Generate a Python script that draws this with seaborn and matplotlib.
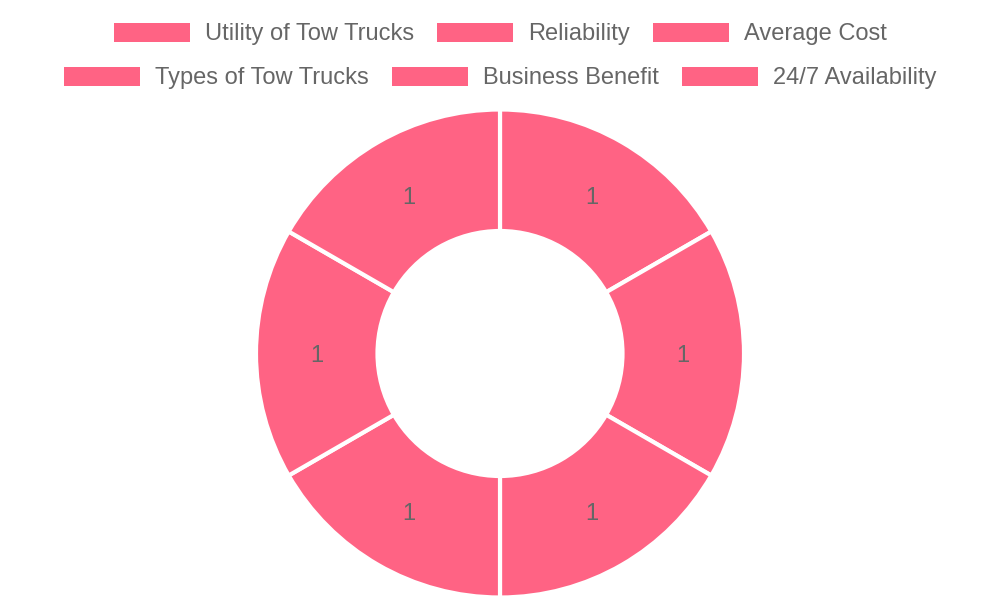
import matplotlib
matplotlib.use("Agg")
import matplotlib.pyplot as plt
import seaborn as sns

categories = ["Utility of Tow Trucks", "Reliability", "Average Cost",
              "Types of Tow Trucks", "Business Benefit", "24/7 Availability"]
values = [1, 1, 1, 1, 1, 1]
value_labels = ["1", "1", "1", "1", "1", "1"]
slice_color = "#FF6384"
text_color = "#666666"

sns.set_theme(style="white")
plt.rcParams["font.family"] = ["Liberation Sans", "DejaVu Sans"]

fig = plt.figure(figsize=(10, 6), dpi=100)
ax = fig.add_axes([0, 0, 1, 1])

wedges, texts = ax.pie(
    values,
    colors=[slice_color] * len(values),
    startangle=90,
    counterclock=False,
    center=(500, 246.5),
    radius=244,
    labels=value_labels,
    labeldistance=0.75,
    wedgeprops=dict(width=121.5, edgecolor="white", linewidth=3),
    textprops=dict(color=text_color, fontsize=17, ha="center", va="center_baseline"),
    frame=True,
)
ax.set_xlim(0, 1000)
ax.set_ylim(0, 600)
ax.set_aspect("equal")
ax.axis("off")

fs = 17
px = fs * 100 / 72
common = dict(frameon=False, fontsize=fs, handlelength=76 / px, handleheight=20 / px,
              handletextpad=15 / px, columnspacing=23 / px, labelcolor=text_color,
              borderpad=0, borderaxespad=0)
leg1 = fig.legend(wedges[:3], categories[:3], ncol=3, loc="center",
                  bbox_to_anchor=(0.5, 1 - 34 / 600), **common)
leg2 = fig.legend(wedges[3:], categories[3:], ncol=3, loc="center",
                  bbox_to_anchor=(0.5, 1 - 78 / 600), **common)
for leg in (leg1, leg2):
    for h in leg.legend_handles:
        h.set_edgecolor("none")

fig.savefig("out.png", dpi=100)
